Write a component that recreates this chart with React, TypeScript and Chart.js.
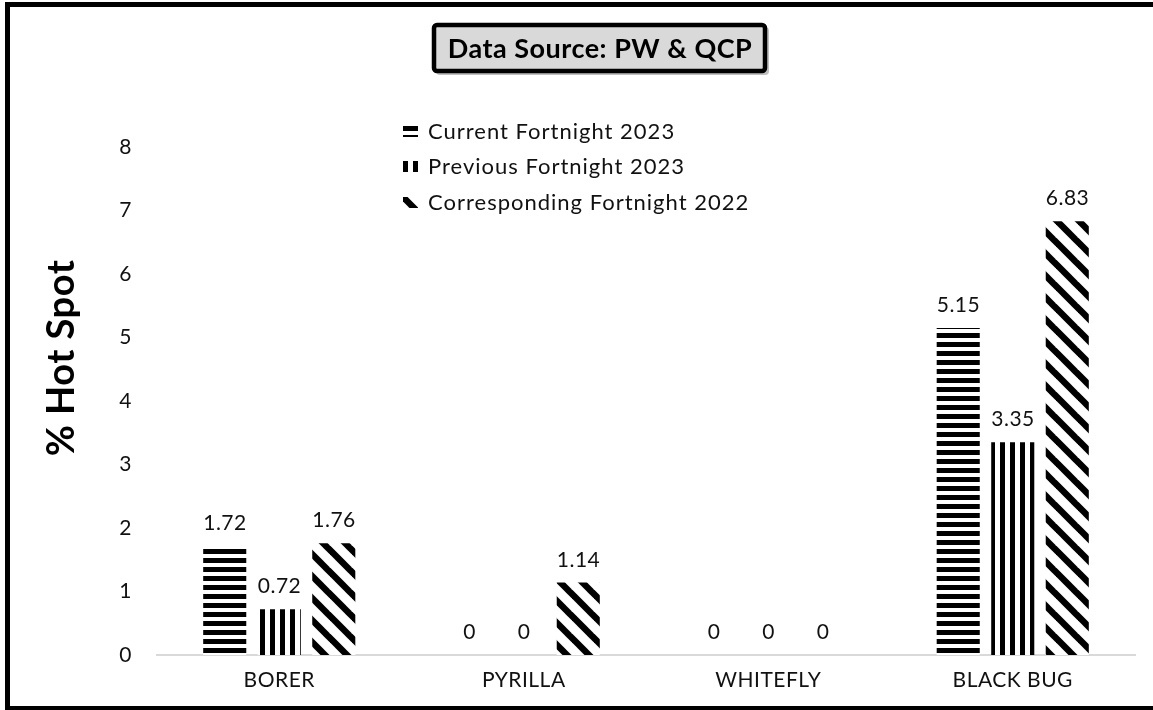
import React, { useEffect, useRef } from 'react';
import { Chart, registerables } from 'chart.js';

Chart.register(...registerables);

const categories = ['BORER', 'PYRILLA', 'WHITEFLY', 'BLACK BUG'];
const currentFortnight2023 = [1.72, 0, 0, 5.15];
const previousFortnight2023 = [0.72, 0, 0, 3.35];
const correspondingFortnight2022 = [1.76, 1.14, 0, 6.83];
const seriesNames = ['Current Fortnight 2023', 'Previous Fortnight 2023', 'Corresponding Fortnight 2022'];
const yTickValues = [0, 1, 2, 3, 4, 5, 6, 7, 8];
const chartTitle = 'Data Source: PW & QCP';
const yAxisTitle = '% Hot Spot';

const FONT = 'Lato, "Open Sans", sans-serif';
const TEXT = '#111111';

function makePattern(kind: string): CanvasPattern | string {
  const c = document.createElement('canvas');
  const size = kind === 'diag' ? 22 : kind === 'h' ? 9 : 10;
  c.width = size;
  c.height = size;
  const g = c.getContext('2d')!;
  g.fillStyle = '#ffffff';
  g.fillRect(0, 0, size, size);
  g.fillStyle = '#000000';
  if (kind === 'h') {
    g.fillRect(0, 0, size, 5);
  } else if (kind === 'v') {
    g.fillRect(0, 0, 5, size);
  } else {
    g.strokeStyle = '#000000';
    g.lineWidth = 6.5;
    for (const k of [-size, 0, size]) {
      g.beginPath();
      g.moveTo(-2, -2 + k);
      g.lineTo(size + 2, size + 2 + k);
      g.stroke();
    }
  }
  const ctx = document.createElement('canvas').getContext('2d')!;
  return ctx.createPattern(c, 'repeat') || '#000';
}

export default function App() {
  const ref = useRef<HTMLCanvasElement | null>(null);

  useEffect(() => {
    if (!ref.current) return;
    const patterns = [makePattern('h'), makePattern('v'), makePattern('diag')];
    const seriesValues = [currentFortnight2023, previousFortnight2023, correspondingFortnight2022];

    const spacing = (chart: any, v: string) => {
      (chart.ctx as any).letterSpacing = v;
    };

    const decor = {
      id: 'decor',
      beforeLayout(chart: any) {
        spacing(chart, '0.5px');
      },
      beforeDraw(chart: any) {
        spacing(chart, '0.5px');
      },
      afterDatasetsDraw(chart: any) {
        const ctx = chart.ctx as CanvasRenderingContext2D;
        ctx.save();
        (ctx as any).letterSpacing = '0.5px';
        ctx.font = `21px ${FONT}`;
        ctx.fillStyle = TEXT;
        ctx.textAlign = 'center';
        ctx.textBaseline = 'alphabetic';
        chart.data.datasets.forEach((ds: any, i: number) => {
          const meta = chart.getDatasetMeta(i);
          meta.data.forEach((el: any, j: number) => {
            ctx.fillText(String(ds.data[j]), el.x + 0.25, el.y - 16);
          });
        });
        ctx.restore();
      },
      afterDraw(chart: any) {
        const ctx = chart.ctx as CanvasRenderingContext2D;
        ctx.save();
        // outer frame
        ctx.strokeStyle = '#000';
        ctx.lineWidth = 5;
        ctx.strokeRect(7.5, 4.5, 1165, 704);

        // title box
        ctx.fillStyle = 'rgba(0,0,0,0.25)';
        ctx.beginPath();
        (ctx as any).roundRect(436, 27, 333, 48, 4);
        ctx.fill();
        ctx.fillStyle = '#d9d9d9';
        ctx.strokeStyle = '#000';
        ctx.lineWidth = 4.5;
        ctx.beginPath();
        (ctx as any).roundRect(434, 25, 331, 46, 3);
        ctx.fill();
        ctx.stroke();
        ctx.fillStyle = '#000';
        (ctx as any).letterSpacing = '0.5px';
        ctx.font = `bold 27px ${FONT}`;
        ctx.textAlign = 'center';
        ctx.textBaseline = 'middle';
        ctx.fillText(chartTitle, 600, 49);

        // y axis title
        ctx.save();
        ctx.translate(62, 358);
        ctx.rotate(-Math.PI / 2);
        (ctx as any).letterSpacing = '0.5px';
        ctx.font = `bold 38px ${FONT}`;
        ctx.fillText(yAxisTitle, 0, 0);
        ctx.restore();

        // legend
        const rows = [132, 167, 203];
        (ctx as any).letterSpacing = '1px';
        ctx.font = `22px ${FONT}`;
        ctx.textAlign = 'left';
        ctx.textBaseline = 'middle';
        seriesNames.forEach((name, i) => {
          const y = rows[i];
          ctx.save();
          ctx.translate(403, y - 6);
          ctx.fillStyle = patterns[i] as any;
          ctx.fillRect(0, 0, 15, 11);
          ctx.restore();
          ctx.fillStyle = TEXT;
          ctx.fillText(name, 428, y);
        });
        ctx.restore();
      },
    };

    const chart = new Chart(ref.current, {
      type: 'bar',
      data: {
        labels: categories,
        datasets: seriesNames.map((name, i) => ({
          label: name,
          data: seriesValues[i],
          backgroundColor: patterns[i] as any,
          borderWidth: 0,
          categoryPercentage: 0.669,
          barPercentage: 0.79,
        })),
      },
      options: {
        responsive: false,
        animation: false,
        layout: { padding: { left: 0, right: 18, top: 147, bottom: 0 } },
        plugins: {
          legend: { display: false },
          title: { display: false },
          tooltip: { enabled: false },
        },
        scales: {
          x: {
            grid: { display: false, drawTicks: false },
            border: { display: true, color: '#d9d9d9', width: 2 },
            ticks: { color: TEXT, font: { family: FONT, size: 21 }, padding: 13 },
            afterFit(scale: any) {
              scale.height = 55;
            },
          },
          y: {
            min: 0,
            max: 8,
            grid: { display: false, drawTicks: false },
            border: { display: false },
            afterBuildTicks(scale: any) {
              scale.ticks = yTickValues.map((v) => ({ value: v }));
            },
            ticks: { color: TEXT, font: { family: FONT, size: 21 }, padding: 25 },
            afterFit(scale: any) {
              scale.width = 157;
            },
          },
        },
      },
      plugins: [decor],
    });
    return () => chart.destroy();
  }, []);

  return (
    <div style={{ position: 'fixed', left: 0, top: 0, width: 1153, height: 710, background: '#fff' }}>
      <canvas ref={ref} width={1153} height={710} style={{ display: 'block' }} />
    </div>
  );
}
